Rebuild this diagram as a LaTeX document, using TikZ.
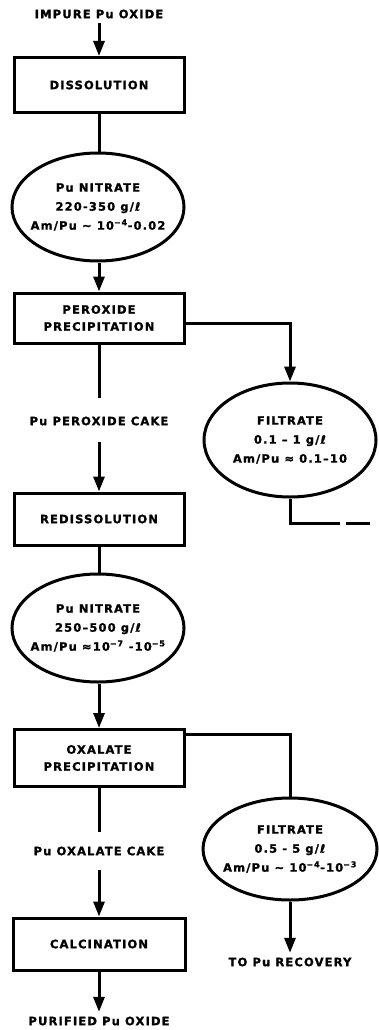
\documentclass[tikz,border=0pt]{standalone}
\usepackage{fontspec}
\setmainfont{DejaVu Sans}[LetterSpace=10,BoldFeatures={FakeBold=1.3}]
\usetikzlibrary{shapes.geometric,arrows.meta}
\begin{document}
\begin{tikzpicture}[x=1pt,y=-1pt,line width=3pt,
	font=\bfseries\fontsize{11.5}{19}\selectfont,
	stepbox/.style={draw,rectangle,align=center,minimum width=170pt},
	liquor/.style={draw,ellipse,align=center,inner ysep=0pt,inner xsep=-18pt,minimum width=172pt},
	flow/.style={-{Triangle[width=11pt,length=15pt]}}]
	\useasboundingbox (0,0) rectangle (378,1030);
	% main line
	\node (feed) at (99,14) {IMPURE Pu OXIDE};
	\node[stepbox,minimum height=55pt] (diss) at (99,85) {DISSOLUTION};
	\node[liquor,minimum height=108pt] (nitA) at (98,207) {Pu NITRATE\\220-350 g/ℓ\\Am/Pu ∼ 10\textsuperscript{−4}-0.02};
	\node[stepbox,minimum height=50pt] (perox) at (99,318) {PEROXIDE\\[-2pt]PRECIPITATION};
	\node (cakeA) at (99,421) {Pu PEROXIDE CAKE};
	\node[stepbox,minimum height=52pt] (redis) at (99,519) {REDISSOLUTION};
	\node[liquor,minimum height=108pt] (nitB) at (98,628) {Pu NITRATE\\250–500 g/ℓ\\Am/Pu ≈10\textsuperscript{−7} -10\textsuperscript{−5}};
	\node[stepbox,minimum height=57pt] (oxal) at (99,758) {OXALATE\\[-2pt]PRECIPITATION};
	\node (cakeB) at (99,851) {Pu OXALATE CAKE};
	\node[stepbox,minimum height=52pt,minimum width=172pt] (calc) at (99,944) {CALCINATION};
	\node (prod) at (99,1021) {PURIFIED Pu OXIDE};
	% side streams
	\node[liquor,minimum height=114pt] (filtA) at (290,440) {FILTRATE\\0.1 – 1 g/ℓ\\Am/Pu ≈ 0.1–10};
	\node[liquor,minimum height=102pt,minimum width=174pt] (filtB) at (290,849) {FILTRATE\\0.5 - 5 g/ℓ\\Am/Pu ∼ 10\textsuperscript{−4}-10\textsuperscript{−3}};
	\node (recov) at (290,962) {TO Pu RECOVERY};
	\coordinate (gapA) at (340,523);
	\coordinate (gapB) at (346,523);
	\coordinate (edge) at (370,523);
	% connectors
	\draw[flow] (feed) -- (diss);
	\draw (diss) -- (diss |- nitA.north);
	\draw[flow] (nitA.south -| perox) -- (perox);
	\draw[flow] ([yshift=-5pt]perox.east) -| (filtA.north);
	\draw (perox) -- ([yshift=14pt]cakeA.north);
	\draw[flow] ([yshift=-12pt]cakeA.south) -- (redis);
	\draw (filtA.south) |- (gapA);
	\draw (gapB) -- (edge);
	\draw (redis) -- (redis |- nitB.north);
	\draw[flow] (nitB.south -| oxal) -- (oxal);
	\draw ([yshift=24pt]oxal.east) -| (filtB.north);
	\draw (oxal) -- ([yshift=10pt]cakeB.north);
	\draw[flow] ([yshift=-10pt]cakeB.south) -- (calc);
	\draw[flow] (calc) -- (prod);
	\draw[flow] (filtB) -- (recov);
\end{tikzpicture}
\end{document}
